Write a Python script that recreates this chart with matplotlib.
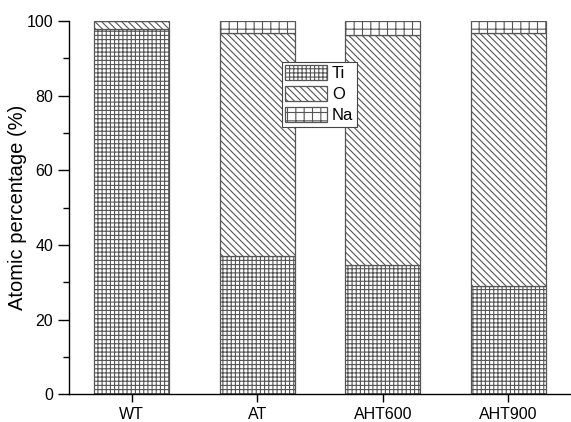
import matplotlib
matplotlib.use("Agg")
import matplotlib.pyplot as plt
import numpy as np

plt.rcParams['font.family'] = ['Liberation Sans', 'DejaVu Sans']
plt.rcParams['hatch.linewidth'] = 0.8
plt.rcParams['hatch.color'] = '#4a4a4a'

samples = ["WT", "AT", "AHT600", "AHT900"]
ti = [97.9, 37.0, 34.5, 29.0]
o = [2.1, 59.7, 61.9, 67.7]
na = [0.0, 3.3, 3.6, 3.3]

fig = plt.figure(figsize=(5.71, 4.22), dpi=100)
ax = fig.add_axes([0.121, 0.066, 0.879, 0.884])

x = np.arange(len(samples))
w = 0.6
edge = '#555555'
ax.bar(x, ti, w, color='white', edgecolor=edge, hatch='++++', linewidth=0.9, label='Ti')
ax.bar(x, o, w, bottom=ti, color='white', edgecolor=edge, hatch='\\\\\\\\\\', linewidth=0.9, label='O')
bot2 = [a + b for a, b in zip(ti, o)]
ax.bar(x, na, w, bottom=bot2, color='white', edgecolor=edge, hatch='++', linewidth=0.9, label='Na')

ax.set_xlim(-0.5, 3.5)
ax.set_ylim(0, 100)
ax.set_xticks(x)
ax.set_xticklabels(samples, fontsize=11.5)
ax.set_yticks(np.arange(0, 101, 20))
ax.set_yticks(np.arange(10, 100, 20), minor=True)
ax.tick_params(axis='y', which='major', labelsize=11.5, length=8, width=1, direction='out')
ax.tick_params(axis='y', which='minor', length=4, width=1, direction='out')
ax.tick_params(axis='x', length=6, width=1, direction='out')
ax.spines['top'].set_visible(False)
ax.spines['right'].set_visible(False)
ax.spines['left'].set_linewidth(1)
ax.spines['bottom'].set_linewidth(1)
ax.set_ylabel("Atomic percentage (%)", fontsize=14.5)
ax.yaxis.set_label_coords(-0.083, 0.5)

leg = ax.legend(loc='upper left', bbox_to_anchor=(0.424, 0.89), fontsize=12,
                fancybox=False, framealpha=1, edgecolor='#444444',
                handlelength=2.5, handleheight=0.95, labelspacing=0.3,
                handletextpad=0.3, borderpad=0.2, borderaxespad=0)
leg.get_frame().set_linewidth(0.8)

fig.savefig("out.png", dpi=100)
